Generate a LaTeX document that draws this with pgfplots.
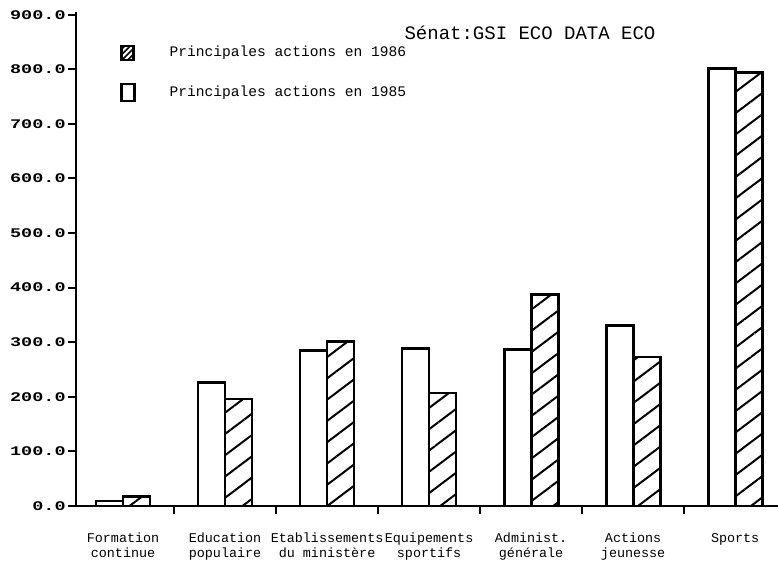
\documentclass[border=0pt]{standalone}
\usepackage{fontspec}
\setmainfont{Liberation Mono}
\newfontfamily\ytfont[FakeStretch=1.4]{Liberation Mono}
\usepackage{pgfplots}
\pgfplotsset{compat=1.18}
\usetikzlibrary{patterns.meta}
\begin{document}
\begin{tikzpicture}
\useasboundingbox (0,0) rectangle (389pt,280.5pt);
\begin{axis}[
  at={(38pt,27.5pt)}, anchor=south west,
  scale only axis, width=351pt, height=247pt,
  xmin=-0.461, xmax=6.42, ymin=0, ymax=905,
  axis lines*=left,
  axis line style={line width=1.4pt},
  ybar=0pt, bar width=13.5pt,
  clip=false,
  tick align=outside,
  major tick length=4pt,
  tick style={line width=1pt, black},
  ytick={0,100,...,900},
  yticklabels={0.0,100.0,200.0,300.0,400.0,500.0,600.0,700.0,800.0,900.0},
  yticklabel style={font=\ytfont\bfseries\fontsize{6.6}{7}\selectfont, inner sep=1pt},
  xtick={0.5,1.5,2.5,3.5,4.5,5.5},
  xticklabels={},
  extra x ticks={0,1,2,3,4,5,6},
  extra x tick labels={Formation\\continue, Education\\populaire, Etablissements\\du ministère, Equipements\\sportifs, Administ.\\générale, Actions\\jeunesse, Sports},
  extra x tick style={tick style={draw=none}, tick label style={font=\fontsize{6.7}{7.6}\selectfont, align=center, yshift=-6pt}},
  reverse legend,
  legend style={at={(rel axis cs:0.0627,0.94)}, anchor=north west, draw=none, fill=none,
    font=\fontsize{7.3}{8}\selectfont, row sep=9pt, inner sep=0pt,
    /tikz/every odd column/.style={column sep=15pt}},
]
\addplot[draw=black, line width=1.4pt, fill=white,
  legend image code/.code={\draw[draw=black, line width=1.1pt, fill=white] (0pt,-4.2pt) rectangle (6.5pt,4.2pt);}]
  coordinates {(0,9) (1,226) (2,285) (3,288) (4,287) (5,331) (6,802)};
\addplot[draw=black, line width=1.4pt, pattern={Lines[angle=37,distance=8.5pt,line width=1pt]},
  legend image code/.code={\draw[draw=black, line width=1.1pt, pattern={Lines[angle=45,distance=2pt,line width=0.8pt]}] (0pt,-3.5pt) rectangle (6pt,3.5pt);}]
  coordinates {(0,18) (1,196) (2,301) (3,207) (4,387) (5,273) (6,794)};
\legend{Principales actions en 1985, Principales actions en 1986}
\end{axis}
\node[font=\fontsize{9.5}{11}\selectfont] at (265pt,264pt) {Sénat:GSI ECO DATA ECO};
\end{tikzpicture}
\end{document}
